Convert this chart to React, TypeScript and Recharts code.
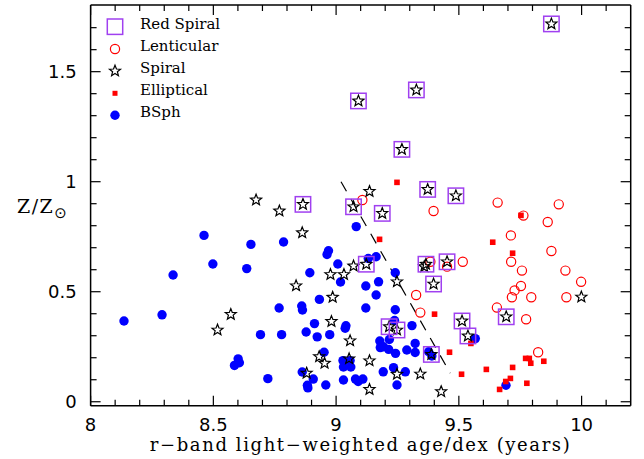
import React from 'react';
import { ScatterChart, Scatter, XAxis, YAxis, ReferenceLine } from 'recharts';

type Pt = { x: number; y: number };

// ---- data ----
const bsph: Pt[] = [
  { x: 8.136, y: 0.367 }, { x: 8.291, y: 0.395 }, { x: 8.336, y: 0.576 }, { x: 8.462, y: 0.756 },
  { x: 8.498, y: 0.626 }, { x: 8.636, y: 0.605 }, { x: 8.653, y: 0.715 }, { x: 8.692, y: 0.305 },
  { x: 8.601, y: 0.195 }, { x: 8.606, y: 0.177 }, { x: 8.586, y: 0.165 }, { x: 8.722, y: 0.105 },
  { x: 8.786, y: 0.726 }, { x: 8.778, y: 0.305 }, { x: 8.768, y: 0.426 }, { x: 8.860, y: 0.435 },
  { x: 8.863, y: 0.417 }, { x: 8.893, y: 0.586 }, { x: 8.932, y: 0.465 }, { x: 8.878, y: 0.317 },
  { x: 8.912, y: 0.355 }, { x: 8.923, y: 0.295 }, { x: 8.974, y: 0.305 }, { x: 8.951, y: 0.225 },
  { x: 8.862, y: 0.135 }, { x: 8.907, y: 0.103 }, { x: 8.883, y: 0.075 }, { x: 8.885, y: 0.063 },
  { x: 8.958, y: 0.076 }, { x: 8.963, y: 0.669 }, { x: 8.969, y: 0.686 }, { x: 9.082, y: 0.796 },
  { x: 9.007, y: 0.626 }, { x: 9.018, y: 0.544 }, { x: 9.121, y: 0.526 }, { x: 9.121, y: 0.426 },
  { x: 9.131, y: 0.651 }, { x: 9.163, y: 0.659 }, { x: 9.173, y: 0.545 }, { x: 9.163, y: 0.485 },
  { x: 9.241, y: 0.586 }, { x: 9.241, y: 0.418 }, { x: 9.309, y: 0.346 }, { x: 9.238, y: 0.369 },
  { x: 9.040, y: 0.345 }, { x: 9.037, y: 0.334 }, { x: 9.028, y: 0.187 }, { x: 9.030, y: 0.158 },
  { x: 9.057, y: 0.187 }, { x: 9.060, y: 0.158 }, { x: 9.030, y: 0.099 }, { x: 9.079, y: 0.103 },
  { x: 9.090, y: 0.092 }, { x: 9.109, y: 0.103 }, { x: 9.178, y: 0.276 }, { x: 9.180, y: 0.246 },
  { x: 9.193, y: 0.250 }, { x: 9.214, y: 0.238 }, { x: 9.217, y: 0.283 }, { x: 9.242, y: 0.220 },
  { x: 9.288, y: 0.235 }, { x: 9.322, y: 0.265 }, { x: 9.322, y: 0.224 }, { x: 9.377, y: 0.227 },
  { x: 9.390, y: 0.208 }, { x: 9.192, y: 0.136 }, { x: 9.234, y: 0.155 }, { x: 9.282, y: 0.136 },
  { x: 9.248, y: 0.076 }, { x: 9.567, y: 0.287 }, { x: 9.692, y: 0.075 },
];

const elliptical: Pt[] = [
  { x: 9.248, y: 0.997 }, { x: 9.753, y: 0.847 }, { x: 9.177, y: 0.738 }, { x: 9.638, y: 0.725 },
  { x: 9.719, y: 0.675 }, { x: 9.401, y: 0.398 }, { x: 9.462, y: 0.225 }, { x: 9.549, y: 0.265 },
  { x: 9.511, y: 0.125 }, { x: 9.612, y: 0.147 }, { x: 9.719, y: 0.156 }, { x: 9.772, y: 0.197 },
  { x: 9.787, y: 0.197 }, { x: 9.793, y: 0.175 }, { x: 9.846, y: 0.184 }, { x: 9.710, y: 0.106 },
  { x: 9.691, y: 0.092 }, { x: 9.666, y: 0.056 }, { x: 9.777, y: 0.084 },
];

const lenticular: Pt[] = [
  { x: 9.107, y: 0.917 }, { x: 9.397, y: 0.867 }, { x: 9.658, y: 0.905 }, { x: 9.763, y: 0.846 },
  { x: 9.862, y: 0.817 }, { x: 9.907, y: 0.897 }, { x: 9.712, y: 0.756 }, { x: 9.877, y: 0.685 },
  { x: 9.384, y: 0.636 }, { x: 9.452, y: 0.614 }, { x: 9.516, y: 0.636 }, { x: 9.713, y: 0.636 },
  { x: 9.757, y: 0.596 }, { x: 9.934, y: 0.596 }, { x: 9.998, y: 0.545 }, { x: 9.326, y: 0.485 },
  { x: 9.343, y: 0.405 }, { x: 9.655, y: 0.428 }, { x: 9.753, y: 0.526 }, { x: 9.727, y: 0.506 },
  { x: 9.716, y: 0.475 }, { x: 9.795, y: 0.475 }, { x: 9.938, y: 0.475 }, { x: 9.774, y: 0.375 },
  { x: 9.823, y: 0.225 },
];

const spiral: Pt[] = [
  { x: 8.674, y: 0.917 }, { x: 8.769, y: 0.867 }, { x: 8.862, y: 0.768 }, { x: 8.837, y: 0.527 },
  { x: 8.571, y: 0.397 }, { x: 8.517, y: 0.326 }, { x: 8.931, y: 0.205 }, { x: 8.953, y: 0.175 },
  { x: 8.880, y: 0.130 }, { x: 8.977, y: 0.578 }, { x: 9.032, y: 0.578 }, { x: 9.071, y: 0.617 },
  { x: 8.986, y: 0.475 }, { x: 8.981, y: 0.365 }, { x: 9.057, y: 0.277 }, { x: 9.053, y: 0.195 },
  { x: 9.136, y: 0.186 }, { x: 9.136, y: 0.056 }, { x: 9.136, y: 0.956 }, { x: 9.248, y: 0.545 },
  { x: 9.248, y: 0.125 }, { x: 9.343, y: 0.126 }, { x: 9.428, y: 0.046 }, { x: 9.359, y: 0.614 },
  { x: 9.999, y: 0.476 },
];

const redSpiral: Pt[] = [
  { x: 9.877, y: 1.717 }, { x: 9.091, y: 1.367 }, { x: 9.327, y: 1.417 }, { x: 9.268, y: 1.147 },
  { x: 9.373, y: 0.965 }, { x: 9.488, y: 0.936 }, { x: 8.865, y: 0.897 }, { x: 9.071, y: 0.886 },
  { x: 9.188, y: 0.856 }, { x: 9.123, y: 0.625 }, { x: 9.366, y: 0.625 }, { x: 9.452, y: 0.636 },
  { x: 9.397, y: 0.535 }, { x: 9.513, y: 0.367 }, { x: 9.537, y: 0.299 }, { x: 9.693, y: 0.386 },
  { x: 9.216, y: 0.341 }, { x: 9.248, y: 0.326 }, { x: 9.388, y: 0.215 },
];

// dashed dividing line end points
const divider: Pt[] = [{ x: 9.02, y: 1.0 }, { x: 9.465, y: 0.13 }];

// ticks
const xMajor = [8, 8.5, 9, 9.5, 10];
const xMajorLabels = ['8', '8.5', '9', '9.5', '10'];
const xMinor = [8.1, 8.2, 8.3, 8.4, 8.6, 8.7, 8.8, 8.9, 9.1, 9.2, 9.3, 9.4, 9.6, 9.7, 9.8, 9.9, 10.1];
const yMajor = [0, 0.5, 1, 1.5];
const yMajorLabels = ['0', '0.5', '1', '1.5'];
const yMinor = [0.1, 0.2, 0.3, 0.4, 0.6, 0.7, 0.8, 0.9, 1.1, 1.2, 1.3, 1.4, 1.6, 1.7];

const xDomain: [number, number] = [8, 10.2];
const yDomain: [number, number] = [-0.018, 1.803];

const legendItems = ['Red Spiral', 'Lenticular', 'Spiral', 'Elliptical', 'BSph'];
const xLabel = 'r\u2212band light\u2212weighted age/dex (years)';

// ---- styles ----
const BLUE = '#0000ff';
const RED = '#ff0000';
const PURPLE = '#a040f0';
const TICK_FONT = '"DejaVu Sans", sans-serif';
const SERIF = '"DejaVu Serif", serif';
const MAJ = 10;
const MIN = 6;

const isMajor = (arr: number[], v: number) => arr.findIndex((m) => Math.abs(m - v) < 1e-6);

const starPath = (cx: number, cy: number, R = 5.8, r = 2.5) => {
  let d = '';
  for (let i = 0; i < 10; i++) {
    const rad = i % 2 === 0 ? R : r;
    const a = -Math.PI / 2 + (i * Math.PI) / 5;
    d += (i === 0 ? 'M' : 'L') + (cx + rad * Math.cos(a)).toFixed(2) + ',' + (cy + rad * Math.sin(a)).toFixed(2);
  }
  return d + 'Z';
};

const BlueDot = (p: any) => <circle cx={p.cx} cy={p.cy} r={4.7} fill={BLUE} />;
const RedSquare = (p: any) => <rect x={p.cx - 2.8} y={p.cy - 2.8} width={5.6} height={5.6} fill={RED} />;
const RedCircle = (p: any) => <circle cx={p.cx} cy={p.cy} r={4.6} fill="none" stroke={RED} strokeWidth={1.2} />;
const Star = (p: any) => <path d={starPath(p.cx, p.cy)} fill="none" stroke="#000" strokeWidth={1.2} strokeLinejoin="miter" />;
const Box = (p: any) => <rect x={p.cx - 7.7} y={p.cy - 7.7} width={15.4} height={15.4} fill="none" stroke={PURPLE} strokeWidth={1.5} />;

const BottomTick = (p: any) => {
  const v = p.payload.value;
  const mi = isMajor(xMajor, v);
  return (
    <g>
      <line x1={p.x} y1={p.y} x2={p.x} y2={p.y - (mi >= 0 ? MAJ : MIN)} stroke="#000" strokeWidth={1.2} />
      {mi >= 0 && (
        <text x={p.x} y={p.y + 25} textAnchor="middle" fontFamily={TICK_FONT} fontSize={18} fill="#000">
          {xMajorLabels[mi]}
        </text>
      )}
    </g>
  );
};
const TopTick = (p: any) => {
  const v = p.payload.value;
  const mi = isMajor(xMajor, v);
  return <line x1={p.x} y1={p.y} x2={p.x} y2={p.y + (mi >= 0 ? MAJ : MIN)} stroke="#000" strokeWidth={1.2} />;
};
const LeftTick = (p: any) => {
  const v = p.payload.value;
  const mi = isMajor(yMajor, v);
  return (
    <g>
      <line x1={p.x} y1={p.y} x2={p.x + (mi >= 0 ? MAJ : MIN)} y2={p.y} stroke="#000" strokeWidth={1.2} />
      {mi >= 0 && (
        <text x={p.x - 14} y={p.y + 6.5} textAnchor="end" fontFamily={TICK_FONT} fontSize={18} fill="#000">
          {yMajorLabels[mi]}
        </text>
      )}
    </g>
  );
};
const RightTick = (p: any) => {
  const v = p.payload.value;
  const mi = isMajor(yMajor, v);
  return <line x1={p.x} y1={p.y} x2={p.x - (mi >= 0 ? MAJ : MIN)} y2={p.y} stroke="#000" strokeWidth={1.2} />;
};

const axisLine = { stroke: '#000', strokeWidth: 1.5 };

export default function App() {
  const xt = [...xMajor, ...xMinor];
  const yt = [...yMajor, ...yMinor];
  const legendY = [26.7, 49, 71, 93.3, 115.3];
  const legendBase = [28.5, 50.5, 72.5, 94.5, 116.5];
  const legendMarkers = [
    <Box key="b" cx={115} cy={legendY[0]} />,
    <RedCircle key="c" cx={115} cy={legendY[1]} />,
    <Star key="s" cx={115} cy={legendY[2]} />,
    <rect key="e" x={112.5} y={legendY[3] - 2.5} width={5} height={5} fill={RED} />,
    <BlueDot key="d" cx={115} cy={legendY[4]} />,
  ];
  return (
    <div style={{ position: 'absolute', left: 0, top: 0, width: 644, height: 459, background: '#fff' }}>
      <ScatterChart width={644} height={459} margin={{ top: 4, right: 12.3, bottom: 13.3, left: 89.6 }}>
        <XAxis xAxisId="b" type="number" dataKey="x" domain={xDomain} allowDataOverflow ticks={xt} interval={0}
          orientation="bottom" height={40} tickLine={false} tickSize={0} tickMargin={0} axisLine={axisLine} tick={BottomTick} />
        <XAxis xAxisId="t" type="number" dataKey="x" domain={xDomain} allowDataOverflow ticks={xt} interval={0}
          orientation="top" height={1} tickLine={false} tickSize={0} tickMargin={0} axisLine={axisLine} tick={TopTick} />
        <YAxis yAxisId="l" type="number" dataKey="y" domain={yDomain} allowDataOverflow ticks={yt} interval={0}
          orientation="left" width={1} tickLine={false} tickSize={0} tickMargin={0} axisLine={axisLine} tick={LeftTick} />
        <YAxis yAxisId="r" type="number" dataKey="y" domain={yDomain} allowDataOverflow ticks={yt} interval={0}
          orientation="right" width={1} tickLine={false} tickSize={0} tickMargin={0} axisLine={axisLine} tick={RightTick} />
        <ReferenceLine xAxisId="b" yAxisId="l" segment={divider} stroke="#000" strokeWidth={1.2} strokeDasharray="11 9" />
        <Scatter name="BSph" data={bsph} xAxisId="b" yAxisId="l" isAnimationActive={false} shape={BlueDot} />
        <Scatter name="Elliptical" data={elliptical} xAxisId="b" yAxisId="l" isAnimationActive={false} shape={RedSquare} />
        <Scatter name="Lenticular" data={lenticular} xAxisId="b" yAxisId="l" isAnimationActive={false} shape={RedCircle} />
        <Scatter name="Spiral" data={spiral} xAxisId="b" yAxisId="l" isAnimationActive={false} shape={Star} />
        <Scatter name="Spiral (red)" data={redSpiral} xAxisId="b" yAxisId="l" isAnimationActive={false} shape={Star} />
        <Scatter name="Red Spiral" data={redSpiral} xAxisId="b" yAxisId="l" isAnimationActive={false} shape={Box} />
      </ScatterChart>
      <svg width={644} height={459} style={{ position: 'absolute', left: 0, top: 0, pointerEvents: 'none' }}>
        {legendMarkers}
        {legendItems.map((t, i) => (
          <text key={t} x={140} y={legendBase[i]} fontFamily={SERIF} fontSize={15} fill="#000">{t}</text>
        ))}
        <text x={17} y={213} fontFamily={SERIF} fontSize={19} letterSpacing={1.5} fill="#000">Z/Z</text>
        <text x={60.5} y={218} textAnchor="middle" fontFamily={TICK_FONT} fontSize={15} fill="#000">{'\u2299'}</text>
        <text x={360.6} y={451} textAnchor="middle" fontFamily={SERIF} fontSize={18} letterSpacing={1.6} fill="#000">{xLabel}</text>
      </svg>
    </div>
  );
}
